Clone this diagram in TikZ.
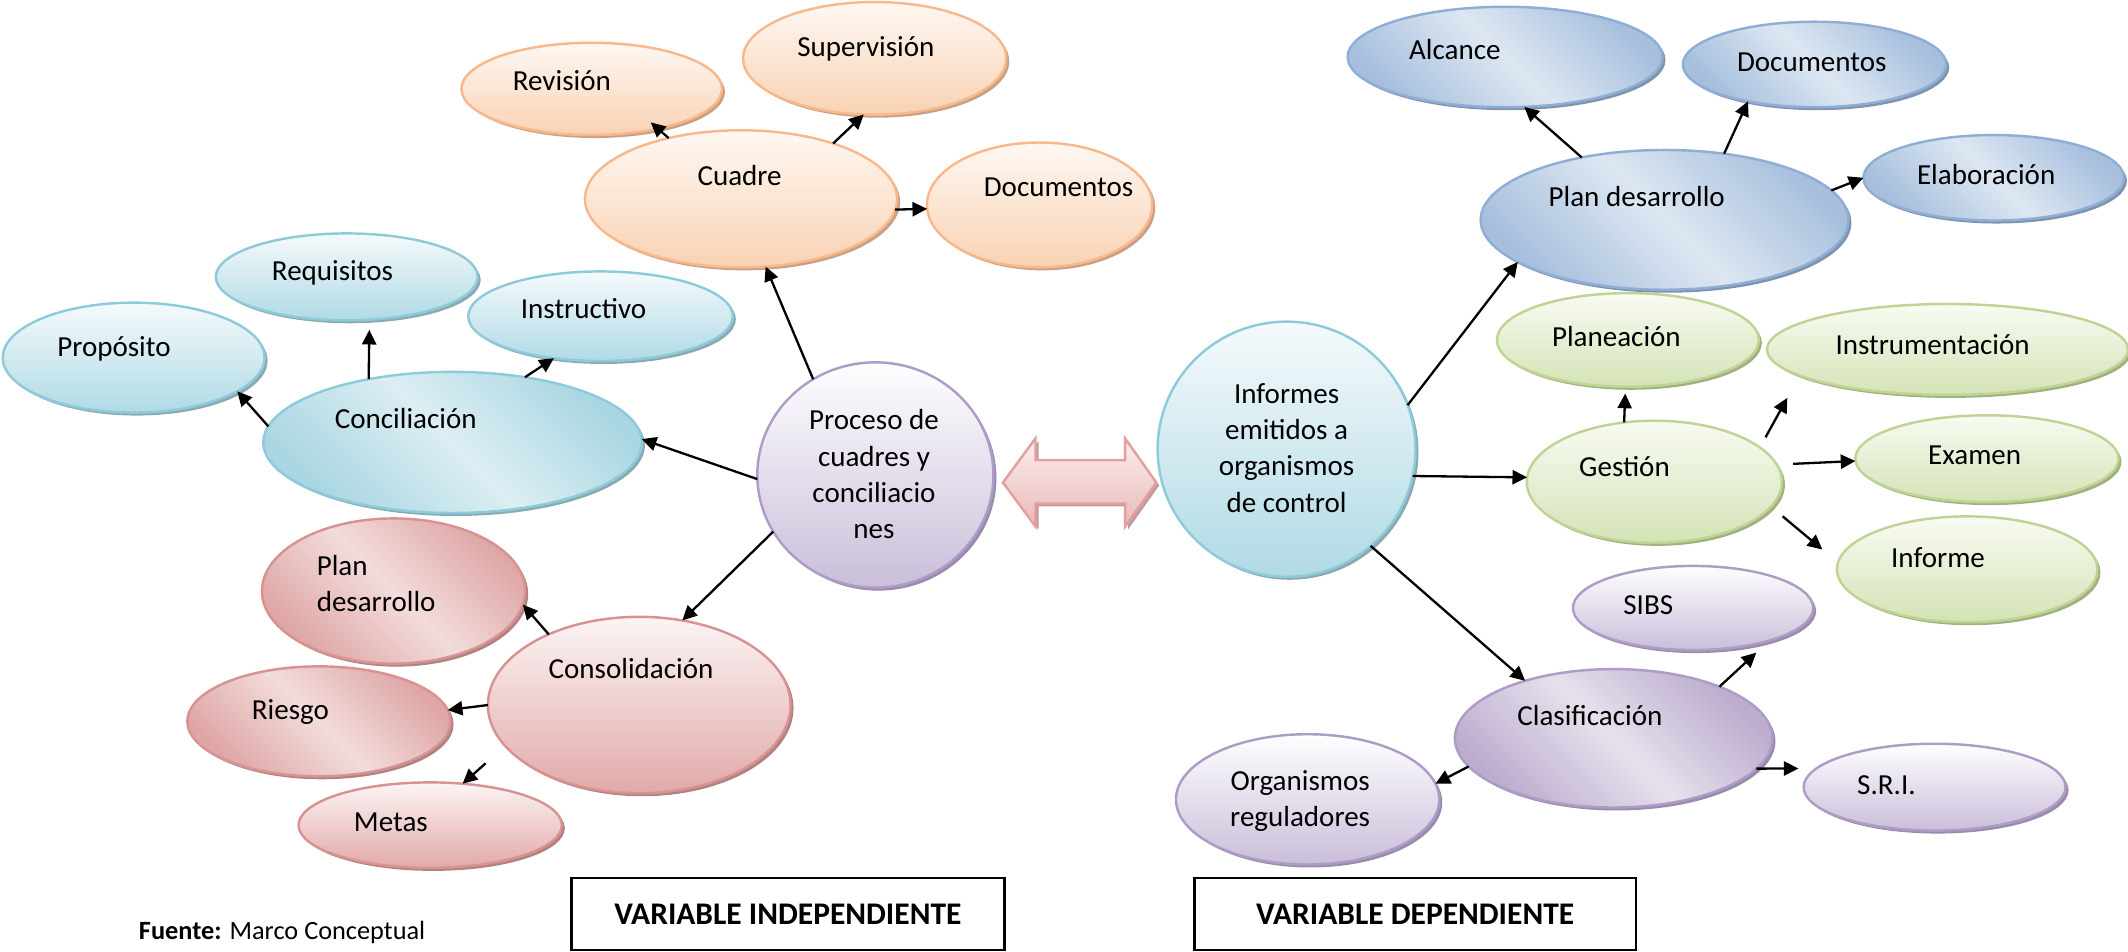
\documentclass[tikz,border=0pt]{standalone}
\usepackage{fontspec}
\setmainfont{Carlito}
\usetikzlibrary{shapes.geometric,shadows,arrows.meta}

% palette
\definecolor{orLine}{HTML}{F8B88B}\definecolor{orTop}{HTML}{FEF8F3}\definecolor{orBot}{HTML}{F9D2B3}\definecolor{orSh}{HTML}{C9A083}
\definecolor{cyLine}{HTML}{8DCBDB}\definecolor{cyTop}{HTML}{F5FAFC}\definecolor{cyBot}{HTML}{B0DAE5}\definecolor{cySh}{HTML}{8BA9B1}
\definecolor{cyMid}{HTML}{DCEEF3}\definecolor{cyEdge}{HTML}{A9D6E2}
\definecolor{rdLine}{HTML}{D79291}\definecolor{rdTop}{HTML}{FCF4F4}\definecolor{rdBot}{HTML}{E2A9A9}\definecolor{rdSh}{HTML}{B08382}
\definecolor{rdMid}{HTML}{F2DCDB}\definecolor{rdEdge}{HTML}{DEA6A5}
\definecolor{blLine}{HTML}{8EAED6}\definecolor{blMid}{HTML}{DDE7F2}\definecolor{blEdge}{HTML}{A7BFDD}\definecolor{blSh}{HTML}{7E93AE}
\definecolor{grLine}{HTML}{BFD494}\definecolor{grTop}{HTML}{F8FBF2}\definecolor{grBot}{HTML}{D4E3B6}\definecolor{grSh}{HTML}{9FB17E}
\definecolor{puLine}{HTML}{AE9CC6}\definecolor{puTop}{HTML}{FEFEFF}\definecolor{puBot}{HTML}{CABED9}\definecolor{puSh}{HTML}{9A8BAE}
\definecolor{puMid}{HTML}{E6E0EC}\definecolor{puEdge}{HTML}{BCADCF}
\definecolor{pkLine}{HTML}{E3A09F}\definecolor{pkTop}{HTML}{FCEEEE}\definecolor{pkBot}{HTML}{E8B9B8}

\tikzset{
  oval/.style 2 args={ellipse, inner sep=0pt, outer sep=0pt,
    minimum width=#1pt, minimum height=#2pt, line width=0.9pt},
  vshade/.style n args={3}{draw=#1, top color=#2, bottom color=#3},
  dshade/.style n args={3}{draw=#1, left color=#2, right color=#2, middle color=#3, shading angle=135},
  rim/.style={drop shadow={shadow xshift=1.1pt, shadow yshift=-1.1pt, fill=#1, opacity=1, draw=none}},
  orOval/.style={vshade={orLine}{orTop}{orBot}, rim=orSh},
  cyOval/.style={vshade={cyLine}{cyTop}{cyBot}, rim=cySh},
  cyDiag/.style={dshade={cyLine}{cyEdge}{cyMid}, rim=cySh},
  rdOval/.style={vshade={rdLine}{rdTop}{rdBot}, rim=rdSh},
  rdDiag/.style={dshade={rdLine}{rdEdge}{rdMid}, rim=rdSh},
  blDiag/.style={dshade={blLine}{blEdge}{blMid}, rim=blSh},
  grOval/.style={vshade={grLine}{grTop}{grBot}, rim=grSh},
  puOval/.style={vshade={puLine}{puTop}{puBot}, rim=puSh},
  puDiag/.style={dshade={puLine}{puEdge}{puMid}, rim=puSh},
  lbl/.style={inner sep=0pt, font=\fontsize{10.7}{13.4}\selectfont, align=center},
  arr/.style={draw=black, line width=0.85pt, -{Triangle[length=5.4pt,width=5.2pt]}},
  varbox/.style={draw=black, line width=0.9pt, inner sep=0pt, minimum height=26.5pt,
    font=\bfseries\fontsize{11.6}{14}\selectfont},
}

\begin{document}
\begin{tikzpicture}[x=0.5pt, y=-0.5pt]
\useasboundingbox (0,0) rectangle (1568,701);

% ---------- independent variable: cuadres ----------
\node[oval={96}{34}, orOval] (revision) at (436,65.5) {};
\node[oval={97}{41.5}, orOval] (supervision) at (644.5,43) {};
\node[oval={115}{50.5}, orOval] (cuadre) at (546,146.5) {};
\node[oval={83}{46}, orOval] (docsA) at (766,151) {};

% ---------- conciliaciones ----------
\node[oval={96.5}{32}, cyOval] (requisitos) at (255.5,204) {};
\node[oval={97.5}{33}, cyOval] (instructivo) at (442.5,233) {};
\node[oval={96.5}{40.5}, cyOval] (proposito) at (98.5,263.5) {};
\node[oval={139.5}{52}, cyDiag] (conciliacion) at (333.5,326) {};

% ---------- consolidacion ----------
\node[oval={97}{53.5}, rdDiag] (planA) at (290,435.5) {};
\node[oval={111.5}{65}, rdOval] (consolidacion) at (471,519.5) {};
\node[oval={97}{40.5}, rdDiag] (riesgo) at (235,531.5) {};
\node[oval={97}{31.5}, rdOval] (metas) at (317,608) {};

% ---------- central circles ----------
\node[oval={87}{83}, puOval] (proceso) at (645,350) {};
\node[oval={95}{94}, cyOval] (informes) at (948,331) {};

% ---------- plan de desarrollo ----------
\node[oval={116}{37}, blDiag] (alcance) at (1109,42) {};
\node[oval={97}{31.5}, blDiag] (docsB) at (1337,47.5) {};
\node[oval={135.5}{51.5}, blDiag] (planB) at (1226.5,162) {};
\node[oval={96}{31.5}, blDiag] (elaboracion) at (1469,131) {};

% ---------- gestion ----------
\node[oval={96.5}{34.5}, grOval] (planeacion) at (1199.5,250.5) {};
\node[oval={133}{33.5}, grOval] (instrumentacion) at (1435,257.5) {};
\node[oval={94}{45}, grOval] (gestion) at (1219,355) {};
\node[oval={97}{32}, grOval] (examen) at (1464,338) {};
\node[oval={96}{39}, grOval] (informe) at (1449.5,419.5) {};

% ---------- clasificacion ----------
\node[oval={88.5}{31}, puOval] (sibs) at (1247.5,448) {};
\node[oval={117}{51}, puDiag] (clasificacion) at (1189,544) {};
\node[oval={97}{48}, puOval] (organismos) at (963.5,589) {};
\node[oval={96.5}{32}, puOval] (sri) at (1425.5,580) {};

% ---------- labels ----------
\node[lbl, anchor=base] (t-revision) at (414,67) {Revisión};
\node[lbl, anchor=base] (t-supervision) at (638,41.5) {Supervisión};
\node[lbl, anchor=base] (t-cuadre) at (545,137) {Cuadre};
\node[lbl, anchor=base] (t-docsA) at (780,144.5) {Documentos};
\node[lbl, anchor=base] (t-requisitos) at (245,207) {Requisitos};
\node[lbl, anchor=base] (t-instructivo) at (430,235) {Instructivo};
\node[lbl, anchor=base] (t-proposito) at (84,263) {Propósito};
\node[lbl, anchor=base] (t-conciliacion) at (299,316) {Conciliación};
\node[lbl, align=left, anchor=west] (t-planA) at (233,430) {Plan\\desarrollo};
\node[lbl, anchor=base] (t-consolidacion) at (465,500) {Consolidación};
\node[lbl, anchor=base] (t-riesgo) at (214,530) {Riesgo};
\node[lbl, anchor=base] (t-metas) at (288,613) {Metas};
\node[lbl] (t-proceso) at (644,349.5) {Proceso de\\cuadres y\\conciliacio\\nes};
\node[lbl] (t-informes) at (948,330) {Informes\\emitidos a\\organismos\\de control};
\node[lbl, anchor=base] (t-alcance) at (1072,44) {Alcance};
\node[lbl, anchor=base] (t-docsB) at (1335,52.5) {Documentos};
\node[lbl, anchor=base] (t-planB) at (1206,152) {Plan desarrollo};
\node[lbl, anchor=base] (t-elaboracion) at (1463.5,136) {Elaboración};
\node[lbl, anchor=base] (t-planeacion) at (1191,255) {Planeación};
\node[lbl, anchor=base] (t-instrumentacion) at (1424,261) {Instrumentación};
\node[lbl, anchor=base] (t-gestion) at (1197,351) {Gestión};
\node[lbl, anchor=base] (t-examen) at (1455,342) {Examen};
\node[lbl, anchor=base] (t-informe) at (1428,418) {Informe};
\node[lbl, anchor=base] (t-sibs) at (1214.5,453) {SIBS};
\node[lbl, anchor=base] (t-clasificacion) at (1171.5,534.5) {Clasificación};
\node[lbl] (t-organismos) at (958,590) {Organismos\\reguladores};
\node[lbl, anchor=base] (t-sri) at (1390,585.5) {S.R.I.};

% ---------- double block arrow between the two variables ----------
\draw[line width=0.9pt, draw=pkLine, top color=pkTop, bottom color=pkBot,
      drop shadow={shadow xshift=1.1pt, shadow yshift=-1.1pt, fill=rdSh, opacity=0.8, draw=none}]
  (739,355.5) -- (763,323) -- (763,339) -- (829,339) -- (829,323) -- (852,355.5)
  -- (829,388) -- (829,371) -- (763,371) -- (763,388) -- cycle;

% ---------- connectors, left side ----------
\draw[arr] (proceso.123.7) -- (cuadre.-70);
\draw[arr] (proceso.182.6) -- (conciliacion.1.6);
\draw[arr] (proceso.209.8) -- (consolidacion.63.8);
\draw[arr, shorten >=-3.5pt] (cuadre.140.4) -- (revision.-31.9);
\draw[arr] (cuadre.31.8) -- (supervision.-101.2);
\draw[arr] (cuadre.-4.3) -- (docsA.182.8);
\draw[arr, shorten >=3.75pt] (conciliacion.143.2) -- (requisitos.-62.4);
\draw[arr] (conciliacion.42) -- (instructivo.-138.3);
\draw[arr] (conciliacion.175.1) -- (proposito.-18.9);
\draw[arr] (consolidacion.142.2) -- (planA.-6.1);
\draw[arr] (consolidacion.180.5) -- (riesgo.5.7);
\draw[arr, shorten <=9.6pt] (consolidacion.197.5) -- (metas.52.4);

% ---------- connectors, right side ----------
\draw[arr] (informes.20.2) -- (planB.196.4);
\draw[arr] (informes.-12.5) -- (gestion.178.2);
\draw[arr] (informes.-49.5) -- (clasificacion.147.4);
\draw[arr] (planB.143.3) -- (alcance.-69.6);
\draw[arr] (planB.48.8) -- (docsB.-151.7);
\draw[arr] (planB.10.5) -- (elaboracion.180);
\draw[arr, shorten >=2.5pt] (gestion.117.1) -- (planeacion.-93.6);
\draw[arr, shorten <=4.3pt, shorten >=9.4pt] (gestion.18.8) -- (instrumentacion.190.6);
\draw[arr, shorten <=6pt] (gestion.8.9) -- (examen.181);
\draw[arr, shorten <=5.6pt, shorten >=7.5pt] (gestion.-12.4) -- (informe.177.1);
\draw[arr, shorten >=6.6pt] (clasificacion.26.3) -- (sibs.-23);
\draw[arr] (clasificacion.191.2) -- (organismos.7.2);
\draw[arr, shorten >=6.6pt] (clasificacion.-12.1) -- (sri.171.6);

% ---------- captions ----------
\node[varbox, minimum width=159.5pt] (indep) at (580.5,673.5) {VARIABLE INDEPENDIENTE};
\node[varbox, minimum width=162.75pt] (dep) at (1042.75,673.5) {VARIABLE DEPENDIENTE};
\node[inner sep=0pt, anchor=base west, font=\fontsize{9.7}{12}\selectfont] (fuente) at (102,692)
  {\textbf{Fuente:} Marco Conceptual};
\end{tikzpicture}
\end{document}
